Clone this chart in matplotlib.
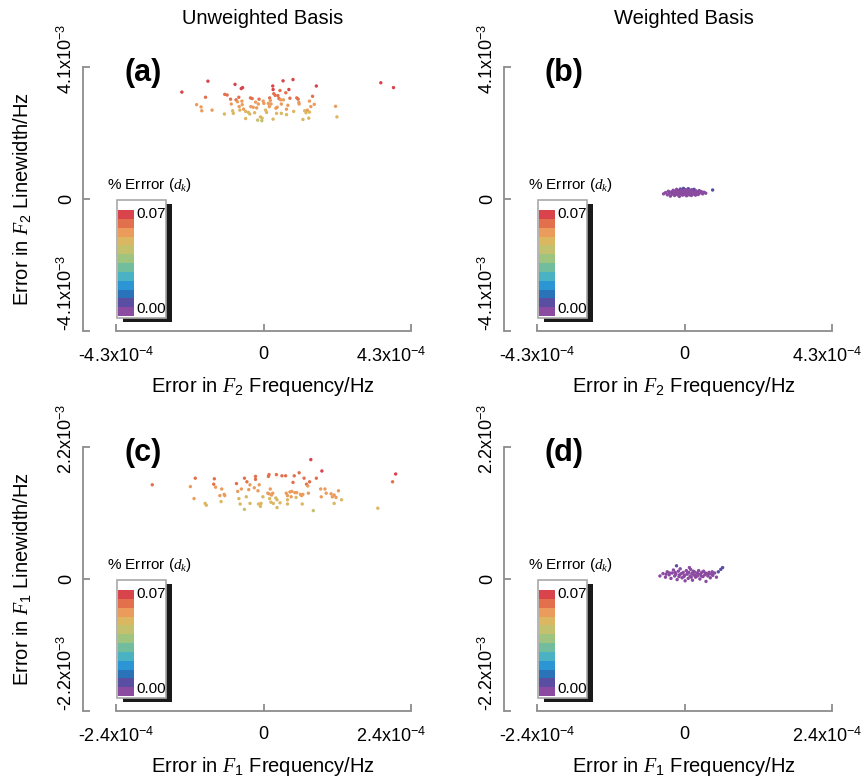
import numpy as np
import matplotlib
matplotlib.use('Agg')
import matplotlib.pyplot as plt
from matplotlib.colors import ListedColormap, BoundaryNorm
from matplotlib.patches import Rectangle
from matplotlib.transforms import ScaledTranslation

plt.rcParams['font.family'] = ['Liberation Sans', 'DejaVu Sans']
plt.rcParams['mathtext.fontset'] = 'custom'
plt.rcParams['mathtext.rm'] = 'Liberation Sans'
plt.rcParams['mathtext.it'] = 'Liberation Serif:italic'
plt.rcParams['mathtext.bf'] = 'Liberation Sans:bold'

# data: x in units of 1e-4 Hz, y in units of 1e-3 Hz
# (a) F2, unweighted basis
a_x = [-2.38, -1.62, -1.95, -1.82, -1.80, -1.69, -1.50, -1.14, -1.13, -1.06, -0.96, -0.94,
       -0.90, -0.88, -0.83, -0.80, -0.76, -0.72, -0.71, -0.69, -0.65, -0.61, -0.63, -0.62,
       -0.58, -0.52, -0.52, -0.44, -0.40, -0.38, -0.33, -0.37, -0.30, -0.26, -0.23, -0.20,
       -0.17, -0.15, -0.13, -0.09, -0.04, -0.05, -0.01, 0.01, 0.06, 0.09, 0.14, 0.17,
       0.18, 0.20, 0.22, 0.27, 0.28, 0.30, 0.34, 0.28, 0.36, 0.40, 0.38, 0.42,
       0.45, 0.48, 0.50, 0.52, 0.52, 0.57, 0.58, 0.65, 0.67, 0.67, 0.71, 0.74,
       0.77, 0.86, 0.88, 0.97, 1.01, 1.03, 1.04, 1.15, 1.20, 1.24, 1.28, 1.32,
       1.34, 1.34, 1.38, 1.43, 1.48, 1.54, 2.10, 2.14, 3.42, 3.79]
a_y = [3.32, 3.66, 2.93, 2.86, 2.74, 3.16, 2.76, 2.64, 3.25, 3.23, 3.10, 2.95,
       2.74, 2.66, 3.56, 3.08, 3.02, 3.16, 2.87, 2.76, 3.43, 3.46, 3.04, 2.93,
       2.79, 2.72, 2.50, 2.69, 2.64, 3.14, 3.12, 2.87, 2.85, 2.68, 3.01, 2.83,
       2.45, 2.95, 3.10, 2.55, 2.51, 2.43, 3.04, 2.97, 2.76, 2.69, 2.97, 2.87,
       3.14, 3.06, 2.95, 3.51, 3.40, 3.27, 3.22, 2.48, 2.82, 2.85, 2.66, 3.21,
       3.12, 3.37, 3.08, 2.95, 2.66, 3.67, 3.08, 3.30, 2.79, 2.62, 2.91, 3.40,
       3.13, 3.71, 2.72, 3.14, 3.10, 3.00, 2.95, 2.47, 2.74, 2.68, 2.76, 2.51,
       3.04, 2.70, 2.87, 3.19, 2.94, 3.51, 2.88, 2.55, 3.61, 3.46]

# (b) F2, weighted basis
b_x = [-0.61, -0.55, -0.50, -0.47, -0.44, -0.41, -0.38, -0.36, -0.33, -0.31, -0.29, -0.27,
       -0.25, -0.23, -0.21, -0.20, -0.18, -0.16, -0.15, -0.13, -0.12, -0.10, -0.09, -0.07,
       -0.06, -0.04, -0.03, -0.01, 0.00, 0.02, 0.03, 0.05, 0.06, 0.08, 0.09, 0.11,
       0.12, 0.14, 0.15, 0.17, 0.18, 0.20, 0.21, 0.23, 0.25, 0.26, 0.28, 0.30,
       0.32, 0.34, 0.36, 0.38, 0.40, 0.43, 0.46, 0.49, 0.53, 0.57, 0.62, 0.82,
       -0.35, -0.22, -0.08, 0.04, 0.10, 0.19, 0.27, 0.33, -0.14, 0.00, 0.13, -0.26,
       0.22, 0.07, -0.02]
b_y = [0.16, 0.20, 0.13, 0.24, 0.18, 0.09, 0.22, 0.15, 0.27, 0.19, 0.11, 0.24,
       0.17, 0.30, 0.21, 0.13, 0.26, 0.19, 0.08, 0.23, 0.31, 0.16, 0.27, 0.20,
       0.12, 0.25, 0.33, 0.18, 0.22, 0.14, 0.29, 0.20, 0.10, 0.25, 0.17, 0.32,
       0.21, 0.13, 0.27, 0.19, 0.24, 0.11, 0.29, 0.18, 0.23, 0.15, 0.30, 0.20,
       0.12, 0.25, 0.17, 0.22, 0.14, 0.26, 0.19, 0.23, 0.16, 0.21, 0.18, 0.28,
       0.21, 0.16, 0.22, 0.17, 0.23, 0.20, 0.19, 0.21, 0.18, 0.26, 0.16, 0.21,
       0.25, 0.28, 0.14]

# (c) F1, unweighted basis
c_x = [-1.81, -1.11, -1.19, -1.13, -0.95, -0.93, -0.80, -0.81, -0.78, -0.68, -0.71, -0.64,
       -0.63, -0.69, -0.44, -0.42, -0.40, -0.38, -0.36, -0.31, -0.31, -0.27, -0.28, -0.22,
       -0.24, -0.22, -0.13, -0.13, -0.15, -0.09, -0.07, -0.08, -0.04, -0.05, -0.01, 0.08,
       0.09, 0.07, 0.09, 0.10, 0.11, 0.12, 0.13, 0.15, 0.16, 0.20, 0.22, 0.21,
       0.22, 0.27, 0.30, 0.36, 0.37, 0.39, 0.39, 0.39, 0.43, 0.46, 0.45, 0.50,
       0.48, 0.51, 0.54, 0.53, 0.58, 0.60, 0.62, 0.64, 0.63, 0.66, 0.70, 0.72,
       0.75, 0.77, 0.73, 0.81, 0.86, 0.93, 0.94, 0.95, 1.00, 1.02, 1.10, 1.12,
       1.15, 1.18, 1.15, 1.22, 1.27, 1.86, 2.10, 2.15]
c_y = [1.57, 1.68, 1.54, 1.34, 1.26, 1.23, 1.67, 1.58, 1.53, 1.50, 1.39, 1.41,
       1.39, 1.29, 1.59, 1.46, 1.34, 1.25, 1.50, 1.68, 1.16, 1.62, 1.37, 1.57,
       1.49, 1.26, 1.71, 1.66, 1.52, 1.47, 1.57, 1.25, 1.26, 1.21, 1.37, 1.71,
       1.74, 1.43, 1.42, 1.34, 1.50, 1.28, 1.40, 1.43, 1.26, 1.35, 1.32, 1.74,
       1.19, 1.27, 1.72, 1.72, 1.43, 1.39, 1.32, 1.25, 1.45, 1.46, 1.37, 1.72,
       1.61, 1.44, 1.44, 1.36, 1.77, 1.41, 1.39, 1.41, 1.25, 1.68, 1.58, 1.55,
       1.62, 1.99, 1.43, 1.14, 1.68, 1.50, 1.37, 1.80, 1.50, 1.43, 1.42, 1.37,
       1.40, 1.36, 1.26, 1.47, 1.32, 1.18, 1.62, 1.75]

# (d) F1, weighted basis
d_x = [-0.40, -0.35, -0.31, -0.28, -0.25, -0.22, -0.20, -0.18, -0.16, -0.14, -0.12, -0.10,
       -0.09, -0.07, -0.05, -0.04, -0.02, 0.00, 0.01, 0.03, 0.04, 0.06, 0.07, 0.09,
       0.10, 0.12, 0.13, 0.15, 0.16, 0.18, 0.20, 0.21, 0.23, 0.25, 0.26, 0.28,
       0.30, 0.31, 0.33, 0.35, 0.36, 0.38, 0.40, 0.42, 0.44, 0.46, 0.49, 0.52,
       0.55, 0.59, 0.62, -0.30, -0.08, 0.05, 0.17, 0.27, 0.39, -0.15, 0.11, 0.22,
       -0.01, 0.34, 0.14, 0.45, -0.24, -0.13, 0.08]
d_y = [0.05, 0.09, 0.03, 0.12, 0.07, 0.01, 0.10, 0.15, 0.05, 0.08, -0.01, 0.13,
       0.04, 0.17, 0.09, 0.02, 0.11, 0.06, -0.03, 0.14, 0.08, 0.01, 0.11, 0.05,
       0.16, 0.09, -0.02, 0.07, 0.12, 0.03, 0.10, 0.05, 0.14, 0.00, 0.08, 0.11,
       0.04, 0.13, 0.07, -0.04, 0.09, 0.05, 0.11, 0.02, 0.08, 0.06, 0.10, 0.03,
       0.12, 0.16, 0.19, 0.08, 0.07, 0.10, 0.06, 0.05, 0.08, 0.11, 0.03, 0.09,
       0.04, 0.10, 0.13, 0.12, 0.10, 0.22, 0.19]

# 12-level colour scale for % error (d_k), 0 -> 0.07
err_colors = ['#8b4ba0', '#5a4ea3', '#2a73b8', '#2b96d3', '#4bb2c4', '#73bd9f',
              '#9fc480', '#c3c16e', '#dbb762', '#eb9c5c', '#e2704d', '#d9434b']
cmap = ListedColormap(err_colors)
norm = BoundaryNorm(np.linspace(0, 0.07, 13), cmap.N)

W, H = 864, 780
fig = plt.figure(figsize=(W / 100, H / 100), dpi=100)


def fx(px):
    return px / W


def fy(py):
    return 1 - py / H


def pct_err(x, y, off, k):
    # combined relative error used for colouring
    return off + k * np.hypot(np.asarray(y), 0.3 * np.asarray(x))


def shift(lab, dx, dy):
    lab.set_transform(lab.get_transform() + ScaledTranslation(dx / 100, dy / 100, fig.dpi_scale_trans))


GRAY = '#8c8c8c'

panels = [
    (a_x, a_y, 4.3, 4.1, 116, 67, '(a)', '2', pct_err(a_x, a_y, 0.0, 0.0189)),
    (b_x, b_y, 4.3, 4.1, 537, 67, '(b)', '2', pct_err(b_x, b_y, 0.0, 0.0189)),
    (c_x, c_y, 2.4, 2.2, 116, 447, '(c)', '1', pct_err(c_x, c_y, 0.014, 0.028)),
    (d_x, d_y, 2.4, 2.2, 537, 447, '(d)', '1', pct_err(d_x, d_y, 0.0, 0.03)),
]

PW, PH = 295, 264

for i, (xs, ys, xl, yl, ox, oy, letter, sub, dk) in enumerate(panels):
    ax = fig.add_axes([fx(ox), fy(oy + PH), PW / W, PH / H])
    sc = ax.scatter(np.array(xs) * 1e-4, np.array(ys) * 1e-3, c=dk, cmap=cmap, norm=norm,
                    s=6, linewidths=0, zorder=3)
    ax.set_xlim(-xl * 1e-4, xl * 1e-4)
    ax.set_ylim(-yl * 1e-3, yl * 1e-3)
    for s in ['top', 'right']:
        ax.spines[s].set_visible(False)
    for s in ['left', 'bottom']:
        ax.spines[s].set_color(GRAY)
        ax.spines[s].set_linewidth(1.3)
    ax.spines['left'].set_position(('outward', 24))
    ax.tick_params(direction='in', length=5, width=1.3, color=GRAY, labelsize=13)
    ax.tick_params(axis='x', pad=11)
    ax.tick_params(axis='y', pad=5)
    ax.set_xticks([-xl * 1e-4, 0, xl * 1e-4])
    ax.set_xticklabels(['-%.1fx10$^{-4}$' % xl, '0', '%.1fx10$^{-4}$' % xl])
    ax.set_yticks([-yl * 1e-3, 0, yl * 1e-3])
    ax.set_yticklabels(['-%.1fx10$^{-3}$' % yl, '0', '%.1fx10$^{-3}$' % yl],
                       rotation=90, va='center')
    ylabs = ax.get_yticklabels()
    shift(ylabs[0], 0, 38)
    shift(ylabs[2], 0, 8)
    xlabs = ax.get_xticklabels()
    shift(xlabs[2], -20 if i % 2 == 0 else -5, 0)

    # panel letter
    fig.text(fx(ox + 27), fy(oy + 6), letter, fontsize=22, fontweight='bold',
             ha='center', va='center')

    # x label
    fig.text(fx(ox + 147), fy(oy + 319), 'Error in $F_%s$ Frequency/Hz' % sub,
             fontsize=14.5, ha='center', va='center')

    # colour key box with drop shadow
    bx0, by0, bx1, by1 = ox + 1, oy + 133, ox + 50, oy + 251
    fig.patches.append(Rectangle((fx(bx0 + 6), fy(by1 + 4)), (bx1 - bx0) / W, (by1 - by0) / H,
                                 transform=fig.transFigure, facecolor='#1a1a1a',
                                 edgecolor='none', zorder=4))
    fig.patches.append(Rectangle((fx(bx0), fy(by1)), (bx1 - bx0) / W, (by1 - by0) / H,
                                 transform=fig.transFigure, facecolor='white',
                                 edgecolor='#a8a8a8', linewidth=1.2, zorder=5))
    cax = fig.add_axes([fx(ox + 2), fy(oy + 249), 16 / W, 106 / H], zorder=6)
    cb = fig.colorbar(sc, cax=cax)
    cb.outline.set_visible(False)
    cax.set_yticks([])
    cax.minorticks_off()
    fig.text(fx(ox + 20), fy(oy + 147), '0.07', fontsize=11, ha='left', va='center', zorder=7)
    fig.text(fx(ox + 20), fy(oy + 242), '0.00', fontsize=11, ha='left', va='center', zorder=7)
    fig.text(fx(ox + 33), fy(oy + 118), '% Errror ($d_k$)', fontsize=11, ha='center', va='center')

# row y labels
fig.text(fx(22), fy(199), 'Error in $F_2$ Linewidth/Hz', fontsize=14.5, rotation=90,
         ha='center', va='center')
fig.text(fx(22), fy(579), 'Error in $F_1$ Linewidth/Hz', fontsize=14.5, rotation=90,
         ha='center', va='center')

# column titles
fig.text(fx(263), fy(18), 'Unweighted Basis', fontsize=14.5, ha='center', va='center')
fig.text(fx(684), fy(18), 'Weighted Basis', fontsize=14.5, ha='center', va='center')

fig.savefig('out.png', dpi=100)
